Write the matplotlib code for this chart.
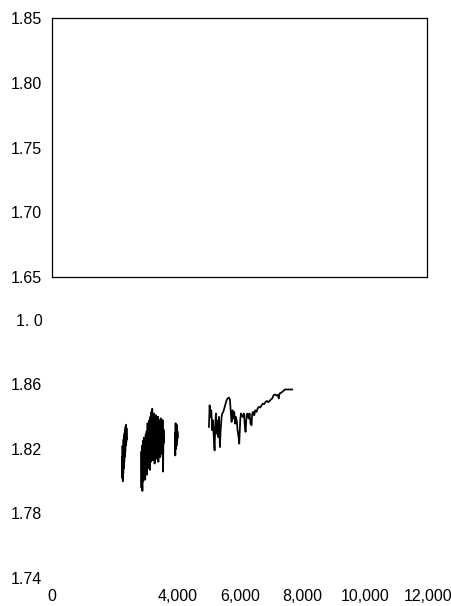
import matplotlib
matplotlib.use("Agg")
import matplotlib.pyplot as plt

plt.rcParams['font.family'] = ['Liberation Sans', 'DejaVu Sans']

# ---- top panel (empty) ----
top_yticks = [1.65, 1.70, 1.75, 1.80, 1.85]
top_ylabels = ['1.65', '1.70', '1.75', '1.80', '1.85']

# ---- bottom panel ----
bot_yticks = [1.74, 1.78, 1.82, 1.86, 1.90]
bot_ylabels = ['1.74', '1.78', '1.82', '1.86', '1. 0']
bot_xticks = [0, 4000, 6000, 8000, 10000, 12000]
bot_xlabels = ['0', '4,000', '6,000', '8,000', '10,000', '12,000']

seg1_x = [2235, 2243, 2251, 2259, 2267, 2275, 2283, 2291, 2299, 2307,
          2315, 2323, 2331, 2339, 2347, 2355, 2363, 2371, 2379, 2387]
seg1_y = [1.815, 1.802, 1.822, 1.800, 1.818, 1.805, 1.826, 1.808, 1.828, 1.812,
          1.830, 1.815, 1.832, 1.818, 1.834, 1.822, 1.835, 1.824, 1.833, 1.826]

seg2_x = [2840, 2855, 2870, 2885, 2900, 2915, 2930, 2945, 2960, 2975,
          2990, 3005, 3020, 3035, 3050, 3065, 3080, 3095, 3110, 3125,
          3140, 3155, 3170, 3185, 3200, 3215, 3230, 3245, 3260, 3275,
          3290, 3305, 3320, 3335, 3350, 3365, 3380, 3395, 3410, 3425,
          3440, 3455, 3470, 3485, 3500, 3515, 3530, 3545, 3560, 3575]
seg2_y = [1.818, 1.796, 1.822, 1.794, 1.825, 1.800, 1.827, 1.803, 1.824, 1.801,
          1.829, 1.806, 1.831, 1.804, 1.836, 1.808, 1.833, 1.810, 1.838, 1.807,
          1.840, 1.812, 1.843, 1.815, 1.845, 1.813, 1.839, 1.818, 1.842, 1.811,
          1.837, 1.816, 1.841, 1.814, 1.836, 1.819, 1.840, 1.812, 1.838, 1.820,
          1.837, 1.815, 1.839, 1.817, 1.834, 1.820, 1.838, 1.806, 1.832, 1.824]

seg3_x = [3925, 3935, 3945, 3955, 3965, 3975, 3985, 3995, 4005, 4015]
seg3_y = [1.830, 1.816, 1.836, 1.820, 1.834, 1.822, 1.835, 1.825, 1.831, 1.827]

seg4_x = [5009, 5030, 5062, 5083, 5115, 5136, 5168, 5189, 5211, 5232,
          5253, 5274, 5306, 5327, 5359, 5381, 5413, 5434, 5466, 5498,
          5540, 5572, 5604, 5646, 5678, 5710, 5731, 5763, 5795, 5816,
          5848, 5870, 5901, 5923, 5955, 5976, 6008, 6029, 6061, 6093,
          6125, 6157, 6178, 6210, 6242, 6274, 6305, 6337, 6369, 6390,
          6422, 6454, 6486, 6529, 6561, 6603, 6646, 6688, 6731, 6773,
          6816, 6858, 6901, 6943, 6986, 7028, 7071, 7113, 7156, 7198,
          7241, 7262, 7305, 7347, 7390, 7432, 7666]
seg4_y = [1.8337, 1.8471, 1.8399, 1.8440, 1.8316, 1.8378, 1.8254, 1.8191, 1.8357, 1.8420,
          1.8295, 1.8378, 1.8274, 1.8399, 1.8212, 1.8316, 1.8399, 1.8420, 1.8430, 1.8451,
          1.8482, 1.8503, 1.8513, 1.8519, 1.8507, 1.8420, 1.8368, 1.8440, 1.8389, 1.8430,
          1.8357, 1.8399, 1.8368, 1.8316, 1.8274, 1.8233, 1.8378, 1.8420, 1.8409, 1.8399,
          1.8420, 1.8337, 1.8306, 1.8409, 1.8420, 1.8389, 1.8420, 1.8357, 1.8347, 1.8420,
          1.8430, 1.8409, 1.8440, 1.8430, 1.8451, 1.8461, 1.8457, 1.8471, 1.8482, 1.8478,
          1.8492, 1.8498, 1.8490, 1.8498, 1.8507, 1.8513, 1.8534, 1.8538, 1.8532, 1.8536,
          1.8513, 1.8544, 1.8548, 1.8554, 1.8561, 1.8569, 1.8569]

W, H = 452, 606
fig = plt.figure(figsize=(W / 100, H / 100), dpi=100)
fs = 11.5

# top axes
ax1 = fig.add_axes([52 / W, 1 - 277 / H, 375 / W, 259 / H])
ax1.set_ylim(1.65, 1.85)
ax1.set_xlim(0, 12000)
ax1.set_yticks(top_yticks)
ax1.set_yticklabels(top_ylabels, fontsize=fs)
ax1.set_xticks([])
ax1.tick_params(axis='y', length=0, pad=7)
for s in ax1.spines.values():
    s.set_linewidth(0.9)
    s.set_color('black')

# bottom axes
ax2 = fig.add_axes([52 / W, 1 - 578 / H, 376 / W, 258 / H])
ax2.set_xlim(0, 12000)
ax2.set_ylim(1.74, 1.90)
for sx, sy in [(seg1_x, seg1_y), (seg2_x, seg2_y), (seg3_x, seg3_y), (seg4_x, seg4_y)]:
    ax2.plot(sx, sy, color='black', linewidth=1.25)
ax2.set_yticks(bot_yticks)
ax2.set_yticklabels(bot_ylabels, fontsize=fs)
ax2.set_xticks(bot_xticks)
ax2.set_xticklabels(bot_xlabels, fontsize=fs)
ax2.tick_params(axis='y', length=0, pad=7)
ax2.tick_params(axis='x', length=0, pad=8)
for s in ax2.spines.values():
    s.set_visible(False)

fig.savefig('out.png', dpi=100)
